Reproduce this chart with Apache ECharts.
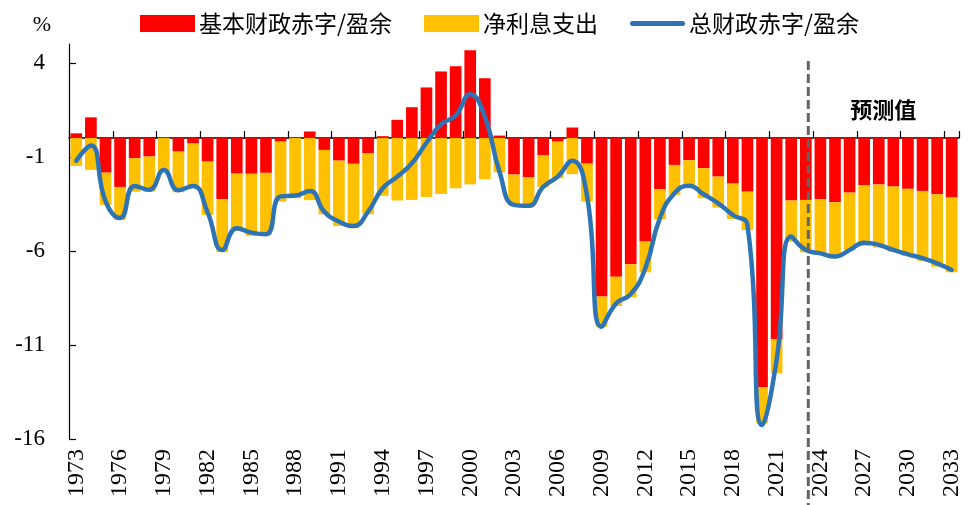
<!DOCTYPE html>
<html><head><meta charset="utf-8">
<script src="https://cdn.jsdelivr.net/npm/echarts@6/dist/echarts.min.js"></script>
<style>html,body{margin:0;padding:0;background:#fff}#c{width:976px;height:505px}</style>
</head><body><div id="c"></div>
<script>
const years = ['1973','1974','1975','1976','1977','1978','1979','1980','1981','1982','1983','1984','1985','1986','1987','1988','1989','1990','1991','1992','1993','1994','1995','1996','1997','1998','1999','2000','2001','2002','2003','2004','2005','2006','2007','2008','2009','2010','2011','2012','2013','2014','2015','2016','2017','2018','2019','2020','2021','2022','2023','2024','2025','2026','2027','2028','2029','2030','2031','2032','2033'];
const primaryBalance = [0.25,1.1,-1.84,-2.6,-1.07,-0.98,0.05,-0.72,-0.29,-1.25,-3.25,-1.89,-1.9,-1.85,-0.19,0.05,0.35,-0.63,-1.2,-1.37,-0.8,0.1,0.97,1.64,2.69,3.54,3.82,4.67,3.18,0.13,-1.94,-2.07,-0.9,-0.19,0.56,-1.36,-8.43,-7.37,-6.71,-5.5,-2.72,-1.43,-1.18,-1.6,-2.05,-2.42,-2.85,-13.25,-10.68,-3.32,-3.29,-3.25,-3.41,-2.9,-2.51,-2.47,-2.58,-2.7,-2.81,-2.99,-3.16];
const netInterest = [-1.48,-1.69,-1.71,-1.75,-1.78,-1.87,-1.75,-2.16,-2.3,-2.84,-2.82,-3.06,-3.3,-3.3,-3.19,-3.2,-3.3,-3.42,-3.47,-3.43,-3.25,-3.07,-3.32,-3.29,-3.13,-2.97,-2.67,-2.46,-2.19,-1.82,-1.63,-1.61,-1.71,-1.95,-1.92,-2.02,-1.6,-1.56,-1.76,-1.64,-1.6,-1.59,-1.4,-1.6,-1.65,-1.88,-2.04,-1.92,-1.83,-2.18,-2.78,-2.96,-2.95,-3.05,-3.21,-3.35,-3.46,-3.57,-3.72,-3.85,-3.98];
const totalBalance = [-1.2,-0.4,-3.35,-4.25,-2.55,-2.75,-1.7,-2.78,-2.55,-3.95,-5.95,-4.8,-5.03,-5.12,-3.1,-3.06,-2.81,-3.91,-4.44,-4.67,-3.91,-2.67,-2.05,-1.34,-0.25,0.73,1.2,2.33,1.14,-1.78,-3.55,-3.6,-2.6,-2.05,-1.21,-3.05,-10.03,-8.79,-8.3,-6.92,-4.26,-2.93,-2.53,-2.99,-3.47,-4.09,-4.62,-15.26,-11.8,-5.24,-5.95,-6.13,-6.3,-5.95,-5.56,-5.68,-5.95,-6.18,-6.39,-6.66,-7.01];
const yTickValues = [-16,-11,-6,-1,4];
const seriesNames = ['基本财政赤字/盈余','净利息支出','总财政赤字/盈余'];
const forecastLabel = '预测值';
const forecastStart = '2024';

const serif = '"Liberation Serif","Times New Roman",serif';
const cjk = '"Noto Sans CJK SC","Noto Sans",sans-serif';

const chart = echarts.init(document.getElementById('c'));
const option = {
  animation: false,
  backgroundColor: '#fff',
  grid: {left: 69, right: 17, top: 44, bottom: 66},
  legend: {
    left: 135, top: 7, itemGap: 32, itemWidth: 55, itemHeight: 17,
    textStyle: {fontFamily: cjk, fontSize: 23, color: '#000', padding: [0,0,0,-1]},
    data: [
      {name: seriesNames[0], icon: 'rect'},
      {name: seriesNames[1], icon: 'rect'},
      {name: seriesNames[2], icon: 'path://M2.5,0 h50 a2.5,2.5 0 0 1 0,5 h-50 a2.5,2.5 0 0 1 0,-5 z'}
    ]
  },
  xAxis: [{
    type: 'category', data: years, position: 'bottom',
    axisLine: {onZero: true, lineStyle: {color: '#000', width: 1.5}},
    axisTick: {show: true, inside: true, interval: 2, length: 7, lineStyle: {color: '#000', width: 1.2}},
    axisLabel: {show: false}
  }, {
    type: 'category', data: years, position: 'bottom',
    axisLine: {show: false, onZero: false},
    axisTick: {show: false},
    axisLabel: {interval: 2, rotate: 90, margin: 10, fontFamily: serif, fontSize: 24, color: '#000'}
  }],
  yAxis: {
    type: 'value', min: -16, max: 5,
    name: '%', nameLocation: 'end', nameGap: 8,
    nameTextStyle: {fontFamily: serif, fontSize: 22, color: '#000', align: 'right', verticalAlign: 'bottom', padding: [0, 18, 0, 0]},
    axisLine: {show: true, lineStyle: {color: '#000', width: 1.2}},
    axisTick: {show: true, inside: true, length: 7, customValues: yTickValues, lineStyle: {color: '#000', width: 1.2}},
    axisLabel: {customValues: yTickValues, margin: 24, fontFamily: serif, fontSize: 23, color: '#000'},
    splitLine: {show: false}
  },
  series: [{
    name: seriesNames[0], type: 'bar', stack: 'b', data: primaryBalance,
    itemStyle: {color: '#FF0000'}, barCategoryGap: '20%'
  }, {
    name: seriesNames[1], type: 'bar', stack: 'b', data: netInterest,
    itemStyle: {color: '#FFC000'}, barCategoryGap: '20%'
  }, {
    name: seriesNames[2], type: 'line', data: totalBalance, smooth: 0.5,
    symbol: 'none', z: 5,
    lineStyle: {color: '#2E74B5', width: 4.5, cap: 'round', join: 'round'},
    itemStyle: {color: '#2E74B5'}
  }]
};
chart.setOption(option);

// annotations positioned via the axes
const i0 = years.indexOf(forecastStart);
const xa = chart.convertToPixel({xAxisIndex: 0}, years[i0 - 1]);
const xb = chart.convertToPixel({xAxisIndex: 0}, years[i0]);
const xDash = xa + (xb - xa) * 0.17;
const yTop = chart.convertToPixel({yAxisIndex: 0}, 4.1);
const xt1 = chart.convertToPixel({xAxisIndex: 0}, '2028');
const xt2 = chart.convertToPixel({xAxisIndex: 0}, '2029');
const yText = chart.convertToPixel({yAxisIndex: 0}, 1.5);
chart.setOption({
  graphic: [{
    type: 'line', z: 100,
    shape: {x1: xDash, y1: yTop, x2: xDash, y2: 505},
    style: {stroke: '#646464', lineWidth: 3, lineDash: [9, 4]}
  }, {
    type: 'text', z: 100,
    style: {x: xt1 + (xt2 - xt1) * 0.3, y: yText, text: forecastLabel, align: 'center', verticalAlign: 'middle',
      font: 'bold 22px "Noto Sans CJK SC", sans-serif', fill: '#000'}
  }]
});
</script>
</body></html>
